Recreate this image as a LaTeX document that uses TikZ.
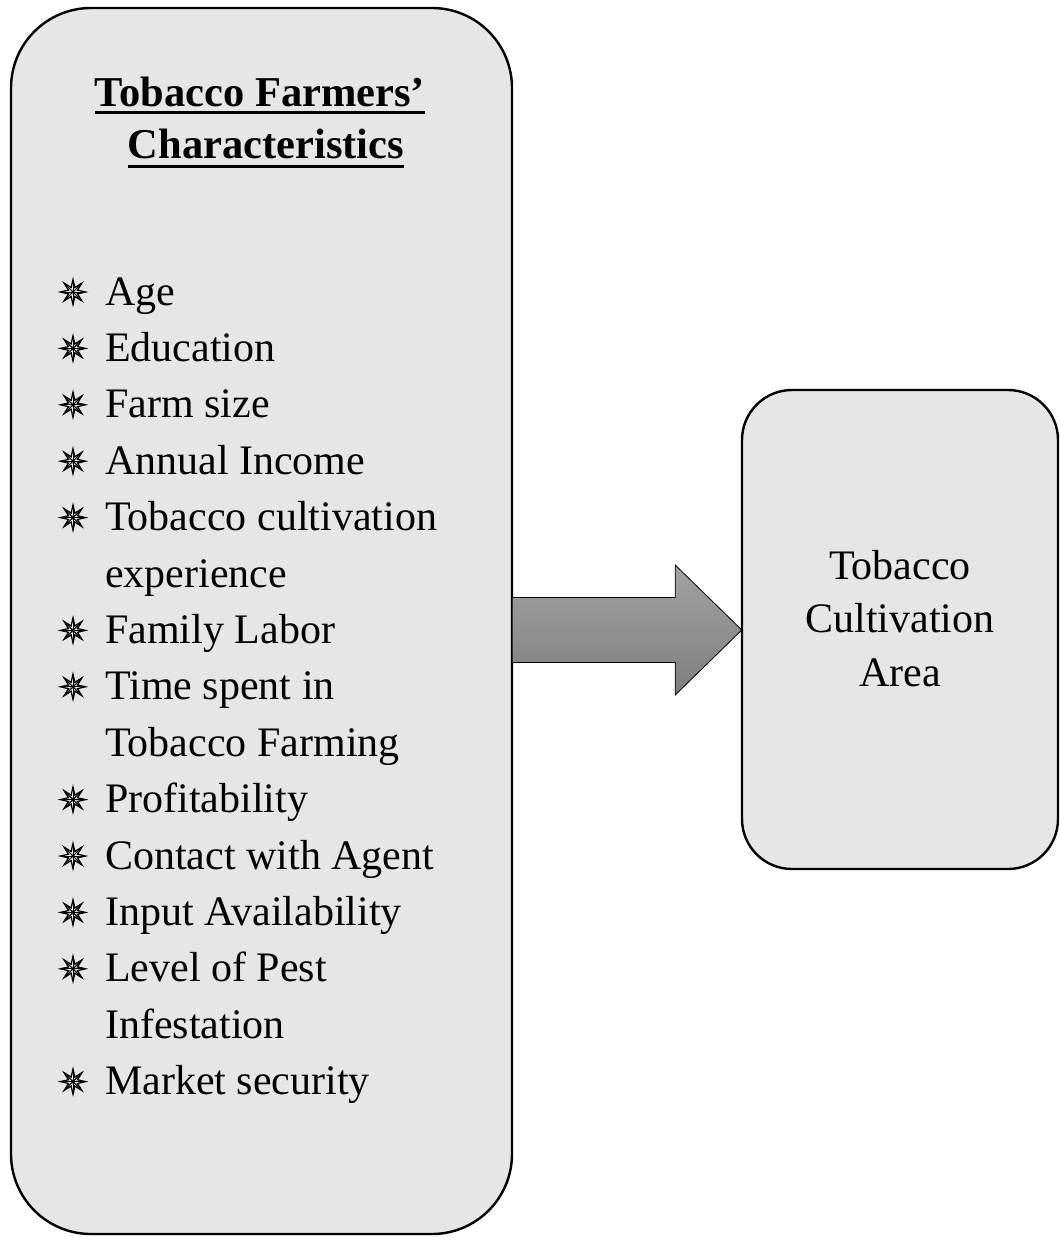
\documentclass[tikz,border=0pt]{standalone}
\usepackage{fontspec}
\setmainfont{Liberation Serif}
\usetikzlibrary{calc}
\definecolor{boxfill}{HTML}{E6E6E6}
\definecolor{arrtop}{HTML}{A2A2A2}
\definecolor{arrbot}{HTML}{7E7E7E}
\tikzset{
  rbox/.style={draw=black, line width=2.4pt, fill=boxfill},
  itemtxt/.style={anchor=base west, inner sep=0pt, font=\fontsize{42}{50}\selectfont},
  centertxt/.style={anchor=base, inner sep=0pt, font=\fontsize{42}{50}\selectfont},
  titletxt/.style={anchor=base, inner sep=0pt, font=\fontsize{42.5}{50}\selectfont\bfseries},
  uline/.style={line width=3pt},
  starbul/.pic={
    \fill[white] (90:12.5) \foreach \k in {1,...,15}{ -- ({90+22.5*\k}:{mod(\k,2)==1 ? 4.8 : 12.5}) } -- cycle;
    \fill[gray!70] (0,0) circle (2.6);
    \foreach \k in {0,...,7}{ \draw[line width=1pt] (0,0) -- ({90+45*\k}:12.5); }
    \draw[line width=1.3pt, line join=miter] (90:12.5) \foreach \k in {1,...,15}{ -- ({90+22.5*\k}:{mod(\k,2)==1 ? 4.8 : 12.5}) } -- cycle;
  }
}
\begin{document}
\begin{tikzpicture}[x=1pt, y=-1pt]
\useasboundingbox (0,0) rectangle (1060,1237);
% boxes
\draw[rbox, rounded corners=80pt] (11,8) rectangle (512,1234);
\draw[rbox, rounded corners=50pt] (742,390) rectangle (1058,869);
\node[draw=none, inner sep=0pt, minimum width=501pt, minimum height=1226pt] (left) at (261.5,621) {};
\node[draw=none, inner sep=0pt, minimum width=316pt, minimum height=479pt] (right) at (900,629.5) {};
% arrow
\coordinate (a0) at (left.east |- 0,630);
\coordinate (a1) at (right.west |- 0,630);
\shade[top color=arrtop, bottom color=arrbot, draw=black, line width=0.8pt]
  ($(a0)+(0,-32.5)$) -- ($(a0)+(163,-32.5)$) -- ($(a0)+(163,-65)$) -- (a1)
  -- ($(a0)+(163,65)$) -- ($(a0)+(163,32.5)$) -- ($(a0)+(0,32.5)$) -- cycle;
% title
\node[titletxt] (t1) at (260,106) {Tobacco Farmers’};
\node[titletxt] (t2) at (266,158) {Characteristics};
\draw[uline] (t1.west |- 0,112) -- (t1.east |- 0,112);
\draw[uline] (t2.west |- 0,166) -- (t2.east |- 0,166);
% items
\foreach \txt/\i/\b in {Age/0/1, Education/1/1, Farm size/2/1, Annual Income/3/1, Tobacco cultivation/4/1, experience/5/0, Family Labor/6/1, Time spent in/7/1, Tobacco Farming/8/0, Profitability/9/1, Contact with Agent/10/1, Input Availability/11/1, Level of Pest/12/1, Infestation/13/0, Market security/14/1}{
  \node[itemtxt] (it\i) at (105, {305+56.4*\i}) {\txt};
  \ifnum\b=1 \pic at (73, {292+56.4*\i}) {starbul}; \fi
}
% right text
\node[centertxt] (r1) at (900,579) {Tobacco};
\node[centertxt] (r2) at (900,632) {Cultivation};
\node[centertxt] (r3) at (900,686) {Area};
\end{tikzpicture}
\end{document}
